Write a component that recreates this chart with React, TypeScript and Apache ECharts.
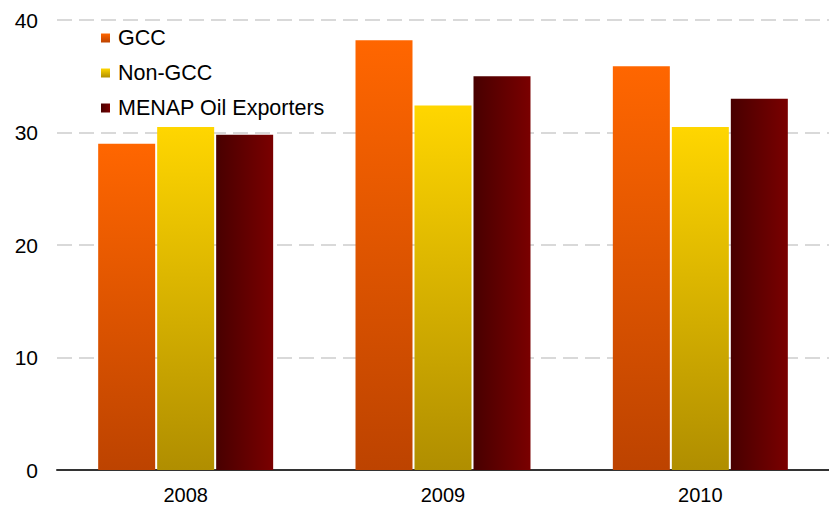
import React, { useEffect, useRef } from "react";
import * as echarts from "echarts";

const categories = ["2008", "2009", "2010"];
const gcc = [29.0, 38.2, 35.9];
const nonGcc = [30.5, 32.4, 30.5];
const menap = [29.8, 35.0, 33.0];
const seriesNames = ["GCC", "Non-GCC", "MENAP Oil Exporters"];

const vGrad = (top: string, bottom: string) =>
  new echarts.graphic.LinearGradient(0, 0, 0, 1, [
    { offset: 0, color: top },
    { offset: 1, color: bottom },
  ]);
const hGrad = (left: string, right: string) =>
  new echarts.graphic.LinearGradient(0, 0, 1, 0, [
    { offset: 0, color: left },
    { offset: 1, color: right },
  ]);

export default function App() {
  const ref = useRef<HTMLDivElement>(null);
  useEffect(() => {
    if (!ref.current) return;
    const chart = echarts.init(ref.current, null, { renderer: "svg" });
    const font = "Liberation Sans, Arial, sans-serif";
    chart.setOption({
      animation: false,
      textStyle: { fontFamily: font },
      grid: { left: 57, top: 20, width: 780, bottom: 37 },
      legend: {
        orient: "vertical",
        left: 96,
        top: 22,
        itemWidth: 9,
        itemHeight: 9,
        itemGap: 13,
        icon: "rect",
        textStyle: {
          fontSize: 21.5,
          color: "#000",
          fontFamily: font,
          padding: [0, 0, 0, 3],
        },
        data: seriesNames,
      },
      xAxis: {
        type: "category",
        data: categories,
        axisLine: { show: true, lineStyle: { color: "#333", width: 2 } },
        axisTick: { show: false },
        axisLabel: { fontSize: 20, color: "#000", margin: 15, fontFamily: font },
      },
      yAxis: {
        type: "value",
        min: 0,
        max: 40,
        interval: 10,
        axisLine: { show: false },
        axisTick: { show: false },
        axisLabel: { fontSize: 21, color: "#000", margin: 19, fontFamily: font },
        splitLine: {
          lineStyle: { color: "#d9d9d9", width: 2, type: [15, 7] },
        },
      },
      series: [
        {
          name: seriesNames[0],
          type: "bar",
          data: gcc,
          barWidth: 57,
          barGap: "3.5%",
          itemStyle: { color: vGrad("#ff6600", "#bd4300") },
        },
        {
          name: seriesNames[1],
          type: "bar",
          data: nonGcc,
          barWidth: 57,
          barGap: "3.5%",
          itemStyle: { color: vGrad("#ffd600", "#b08e00") },
        },
        {
          name: seriesNames[2],
          type: "bar",
          data: menap,
          barWidth: 57,
          barGap: "3.5%",
          itemStyle: { color: hGrad("#480000", "#7a0000") },
        },
      ],
    });
    return () => chart.dispose();
  }, []);
  return (
    <div
      ref={ref}
      style={{ position: "absolute", left: 0, top: 0, width: 829, height: 507 }}
    />
  );
}
